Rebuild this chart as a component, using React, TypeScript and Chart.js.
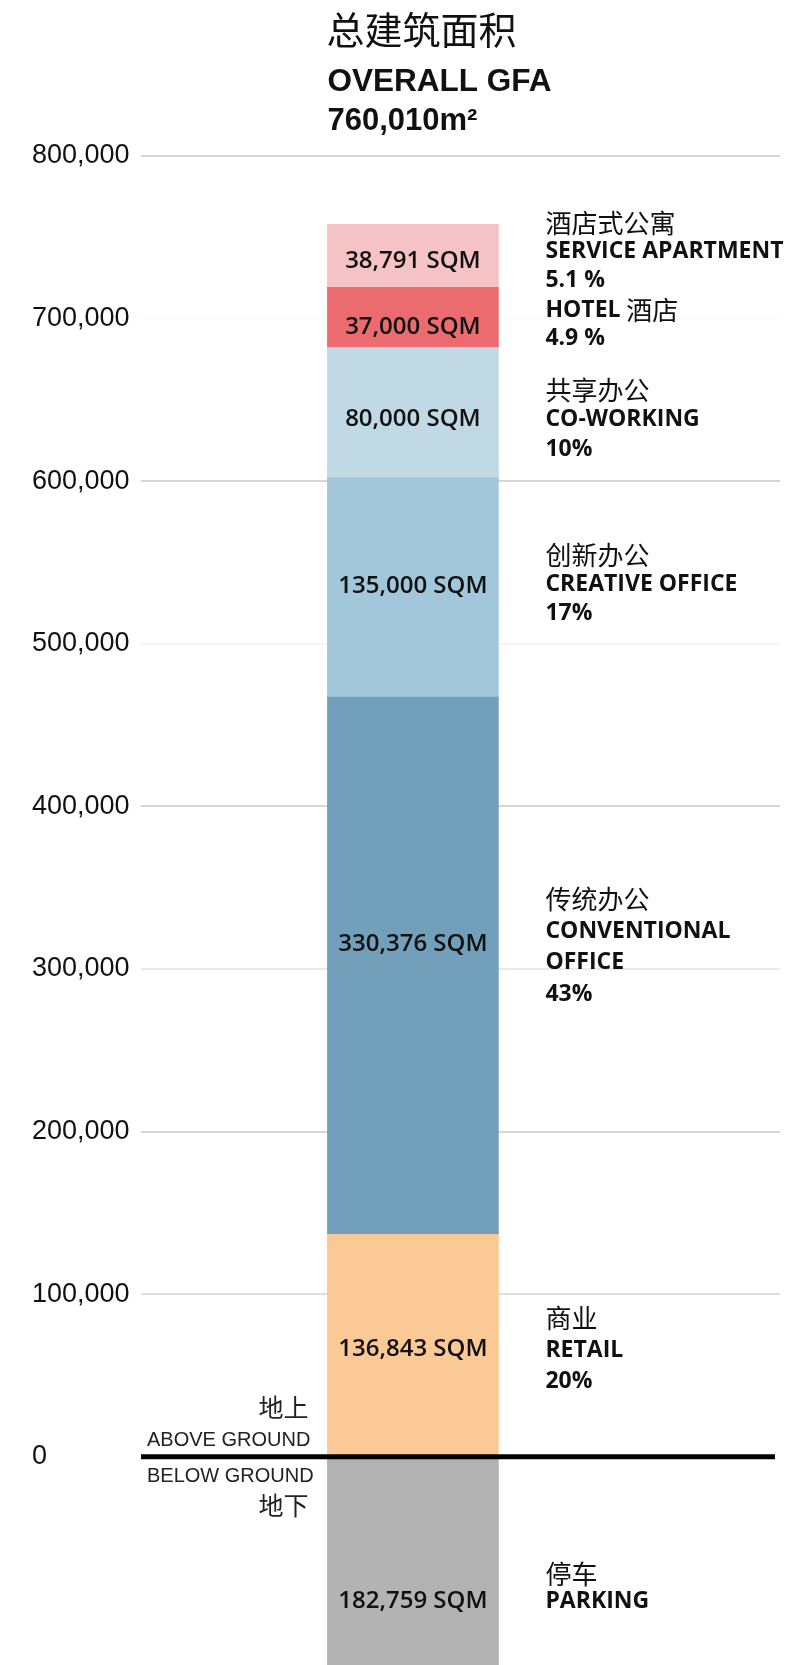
import React, { useEffect, useRef } from 'react';
import { Chart, registerables } from 'chart.js';

Chart.register(...registerables);

// ---- data ----
const categories = ['RETAIL', 'CONVENTIONAL OFFICE', 'CREATIVE OFFICE', 'CO-WORKING', 'HOTEL', 'SERVICE APARTMENT', 'PARKING'];
const areaValues = [136843, 330376, 135000, 80000, 37000, 38791, -182759];
const areaLabels = ['136,843 SQM', '330,376 SQM', '135,000 SQM', '80,000 SQM', '37,000 SQM', '38,791 SQM', '182,759 SQM'];
const zhNames = ['商业', '传统办公', '创新办公', '共享办公', '', '酒店式公寓', '停车'];
const enNames = [['RETAIL'], ['CONVENTIONAL', 'OFFICE'], ['CREATIVE OFFICE'], ['CO-WORKING'], ['HOTEL'], ['SERVICE APARTMENT'], ['PARKING']];
const zhInline = ['', '', '', '', '酒店', '', ''];
const shares = ['20%', '43%', '17%', '10%', '4.9 %', '5.1 %', ''];
const segmentColors = ['#FAC995', '#729FBA', '#A3C7DA', '#C1D8E5', '#EC6B6F', '#F5C3C5', '#B3B3B3'];
const yTickValues = [0, 100000, 200000, 300000, 400000, 500000, 600000, 700000, 800000];
const yTickLabels = ['0', '100,000', '200,000', '300,000', '400,000', '500,000', '600,000', '700,000', '800,000'];
const titleZh = '总建筑面积';
const titleEn = 'OVERALL GFA';
const totalLabel = '760,010m²';
const aboveZh = '地上';
const aboveEn = 'ABOVE GROUND';
const belowEn = 'BELOW GROUND';
const belowZh = '地下';

// ---- styling ----
const CJK = "'Noto Sans CJK SC'";
const SANS = "'Liberation Sans', Arial";
const OPEN = "'Open Sans'";
const gridColors: Record<number, string> = {
  800000: '#d6d6d6', 700000: '#fcfcfc', 600000: '#d6d6d6', 500000: '#f4f4f4',
  400000: '#d6d6d6', 300000: '#eaeaea', 200000: '#d6d6d6', 100000: '#dedede', 0: 'rgba(0,0,0,0)',
};
const barLabelNudge = [4, -22, -1, 7, 10, 5, -5];
const sideNudge = [5, -19, -3, 7, 7, -4, -18];
const sideGap = [31.5, 31.5, 29.5, 29.5, 28, 29, 28];

const annotate = {
  id: 'annotate',
  afterDatasetsDraw(chart: any) {
    const { ctx, chartArea, scales } = chart;
    const y = scales.y;
    const y0 = y.getPixelForValue(0);
    ctx.save();
    // zero line
    ctx.strokeStyle = '#000';
    ctx.lineWidth = 5;
    ctx.beginPath();
    ctx.moveTo(chartArea.left, y0);
    ctx.lineTo(chartArea.right - 5, y0);
    ctx.stroke();

    let barLeft = 0;
    let barRight = 0;
    categories.forEach((_, i) => {
      const el = chart.getDatasetMeta(i).data[0];
      if (!el) return;
      const { x, y: top, base, width } = el.getProps(['x', 'y', 'base', 'width'], true);
      barLeft = x - width / 2;
      barRight = x + width / 2;
      const mid = (top + base) / 2;
      // in-bar label
      ctx.fillStyle = '#111';
      ctx.textAlign = 'center';
      ctx.textBaseline = 'middle';
      ctx.font = `600 24px ${OPEN}`;
      ctx.fillText(areaLabels[i], x, mid + barLabelNudge[i]);

      // side labels
      const lines: { parts: { t: string; f: string }[] }[] = [];
      if (zhNames[i]) lines.push({ parts: [{ t: zhNames[i], f: `400 26px ${CJK}` }] });
      enNames[i].forEach((t, k) => {
        const parts = [{ t, f: `700 23px ${OPEN}` }];
        if (k === 0 && zhInline[i]) parts.push({ t: ' ' + zhInline[i], f: `400 26px ${CJK}` });
        lines.push({ parts });
      });
      if (shares[i]) lines.push({ parts: [{ t: shares[i], f: `700 23px ${OPEN}` }] });
      const gap = sideGap[i];
      const start = mid + sideNudge[i] - ((lines.length - 1) * gap) / 2;
      ctx.textAlign = 'left';
      lines.forEach((ln, k) => {
        let tx = barRight + 47;
        ln.parts.forEach((p) => {
          ctx.font = p.f;
          ctx.fillText(p.t, tx, start + k * gap);
          tx += ctx.measureText(p.t).width;
        });
      });
    });

    // heading
    ctx.fillStyle = '#111';
    ctx.textAlign = 'left';
    ctx.textBaseline = 'middle';
    ctx.font = `400 38px ${CJK}`;
    ctx.fillText(titleZh, barLeft - 1, 30);
    ctx.font = `700 31.5px ${SANS}`;
    ctx.fillText(titleEn, barLeft, 82);
    ctx.font = `700 31px ${SANS}`;
    ctx.fillText(totalLabel, barLeft, 121);

    // ground labels
    ctx.fillStyle = '#222';
    ctx.textAlign = 'right';
    ctx.font = `400 25px ${CJK}`;
    ctx.fillText(aboveZh, barLeft - 19, y0 - 49);
    ctx.fillText(belowZh, barLeft - 19, y0 + 49);
    ctx.textAlign = 'left';
    ctx.font = `400 20px ${SANS}`;
    ctx.fillText(aboveEn, chartArea.left + 6, y0 - 16);
    ctx.fillText(belowEn, chartArea.left + 6, y0 + 20);
    ctx.restore();
  },
};

export default function App() {
  const ref = useRef<HTMLCanvasElement>(null);
  useEffect(() => {
    if (!ref.current) return;
    const chart = new Chart(ref.current, {
      type: 'bar',
      data: {
        datasets: categories.map((c, i) => ({
          label: c,
          data: [{ x: 0, y: areaValues[i] }],
          backgroundColor: segmentColors[i],
          borderWidth: 0,
          barThickness: 171,
        })),
      },
      options: {
        animation: false,
        responsive: false,
        devicePixelRatio: 1,
        layout: { padding: { left: 32, top: 156, right: 24, bottom: 0 } },
        plugins: { legend: { display: false }, tooltip: { enabled: false }, title: { display: false } },
        scales: {
          x: { type: 'linear', min: -1, max: 1.35, offset: false, stacked: true, display: false },
          y: {
            type: 'linear',
            stacked: true,
            min: -128000,
            max: 800000,
            border: { display: false },
            grid: {
              drawTicks: false,
              lineWidth: 2,
              color: (ctx: any) => gridColors[ctx.tick?.value] ?? 'rgba(0,0,0,0)',
            },
            ticks: {
              crossAlign: 'far',
              padding: 0,
              color: '#111',
              font: { family: SANS, size: 27 },
              callback: (v: any) => yTickLabels[yTickValues.indexOf(Number(v))] ?? '',
            },
            afterBuildTicks: (scale: any) => {
              scale.ticks = yTickValues.map((v) => ({ value: v }));
            },
            afterFit: (scale: any) => {
              scale.width = 109;
              scale.paddingTop = 0;
              scale.paddingBottom = 0;
            },
          },
        },
      },
      plugins: [annotate],
    });
    return () => chart.destroy();
  }, []);
  return (
    <div style={{ position: 'absolute', left: 0, top: 0, width: 804, height: 1665, background: '#fff' }}>
      <canvas ref={ref} width={804} height={1665} style={{ width: 804, height: 1665, display: 'block' }} />
    </div>
  );
}
